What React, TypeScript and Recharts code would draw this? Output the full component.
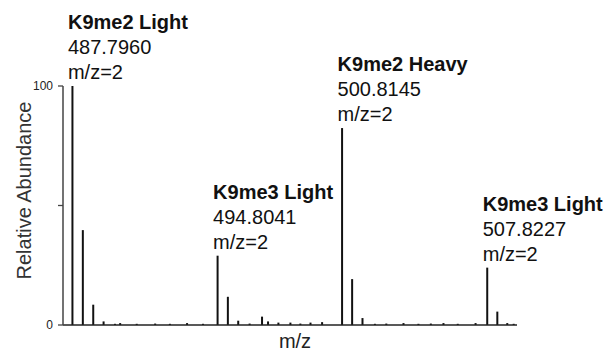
import React from 'react';
import { BarChart, Bar, XAxis, YAxis, LabelList } from 'recharts';

// peak positions (m/z) and relative abundance (%)
const mzValues = [
  487.796, 488.298, 488.8, 489.3, 489.85, 490.1, 490.9, 491.79, 492.5, 493.33, 494.1,
  494.8041, 495.3, 495.8, 496.35, 496.95, 497.24, 497.74, 498.32, 498.8, 499.29, 499.85,
  500.8145, 501.3, 501.8, 502.4, 502.95, 503.78, 504.5, 505.1, 505.71, 506.4, 507.26,
  507.8227, 508.31, 508.79, 509.1,
];
const abundances = [
  100, 39.7, 8.5, 1.5, 0.5, 0.8, 0.5, 0.6, 0.5, 0.8, 0.5,
  29, 11.8, 1.8, 0.6, 3.5, 1.5, 1, 1, 0.6, 1, 1.2,
  82.4, 19.2, 2.9, 0.5, 0.6, 0.8, 0.5, 0.6, 0.8, 0.5, 0.8,
  24, 5.6, 0.8, 0.5,
];

// annotated monoisotopic peaks
const labeledMz = [487.796, 494.8041, 500.8145, 507.8227];
const peakTitles = ['K9me2 Light', 'K9me3 Light', 'K9me2 Heavy', 'K9me3 Light'];
const peakMasses = ['487.7960', '494.8041', '500.8145', '507.8227'];
const peakCharges = ['m/z=2', 'm/z=2', 'm/z=2', 'm/z=2'];

const yTicks = [0, 50, 100];
const yTickLabels: Record<number, string> = { 0: '0', 50: '', 100: '100' };

const FONT = '"Liberation Sans", Arial, Helvetica, sans-serif';

const data = mzValues.map((mz, i) => {
  const k = labeledMz.indexOf(mz);
  return {
    mz,
    abundance: abundances[i],
    title: k >= 0 ? peakTitles[k] : '',
    mass: k >= 0 ? peakMasses[k] : '',
    charge: k >= 0 ? peakCharges[k] : '',
  };
});

const PeakLabel = (props: any) => {
  const { x, y, width, index } = props;
  const row = data[index];
  if (!row || !row.title) return null;
  const lx = Number(x) + Number(width) / 2 - 4.5;
  const base = Number(y) - 7;
  const lh = 25;
  return (
    <g fontFamily={FONT} fontSize={20} fill="#111">
      <text x={lx} y={base - 2 * lh} fontWeight="bold">{row.title}</text>
      <text x={lx} y={base - lh}>{row.mass}</text>
      <text x={lx} y={base}>{row.charge}</text>
    </g>
  );
};

const YLabel = (props: any) => {
  const vb = props.viewBox || {};
  const cx = vb.x + 24;
  const cy = vb.y + vb.height / 2 - 15;
  return (
    <text x={cx} y={cy} transform={`rotate(-90 ${cx} ${cy})`} textAnchor="middle" dominantBaseline="central"
      fontFamily={FONT} fontSize={20} fill="#333">
      Relative Abundance
    </text>
  );
};

const XLabel = (props: any) => {
  const vb = props.viewBox || {};
  return (
    <text x={vb.x + vb.width / 2 + 5} y={vb.y + 23} textAnchor="middle" fontFamily={FONT} fontSize={20} fill="#222">
      m/z
    </text>
  );
};

export default function App() {
  return (
    <div style={{ position: 'absolute', left: 0, top: 0, background: '#fff', fontFamily: FONT }}>
      <BarChart width={609} height={354} data={data} margin={{ top: 86, right: 92, bottom: 0, left: 0 }}>
        <XAxis
          type="number"
          dataKey="mz"
          domain={[487.36, 509.28]}
          allowDataOverflow
          tick={false}
          tickLine={false}
          height={29}
          axisLine={{ stroke: '#222', strokeWidth: 1.6 }}
          label={<XLabel />}
        />
        <YAxis
          type="number"
          domain={[0, 100]}
          ticks={yTicks}
          width={63}
          tickSize={5}
          tickMargin={5}
          tick={{ fontSize: 12, fill: '#222', fontFamily: FONT }}
          tickFormatter={(v: number) => yTickLabels[v] ?? ''}
          axisLine={{ stroke: '#444', strokeWidth: 1.5 }}
          tickLine={{ stroke: '#444', strokeWidth: 1.3 }}
          label={<YLabel />}
        />
        <Bar dataKey="abundance" fill="#111" barSize={2} isAnimationActive={false}>
          <LabelList dataKey="title" content={<PeakLabel />} />
        </Bar>
      </BarChart>
    </div>
  );
}
